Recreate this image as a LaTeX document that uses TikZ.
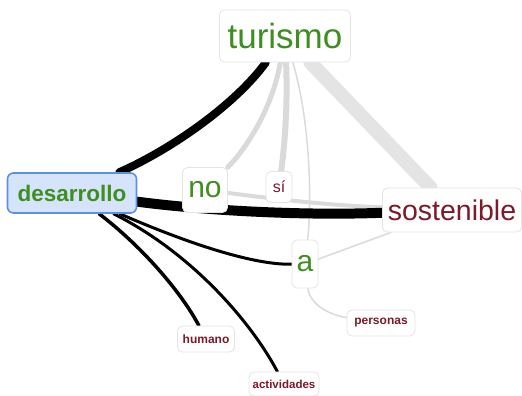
\documentclass[tikz,border=0pt]{standalone}
\usepackage{fontspec}
\setmainfont{Liberation Sans}
\usetikzlibrary{backgrounds}
\definecolor{wgreen}{RGB}{62,142,32}
\definecolor{wred}{RGB}{122,26,42}
\definecolor{wblue}{RGB}{92,143,230}
\definecolor{wbluefill}{RGB}{214,228,251}
\definecolor{wborder}{RGB}{228,228,228}
\definecolor{wgray}{RGB}{218,218,218}
\definecolor{wpale}{RGB}{228,228,228}

\begin{document}
\begin{tikzpicture}[x=1pt,y=-1pt,
  word/.style={draw=wborder, fill=white, rounded corners=5pt, inner sep=0pt, line width=0.8pt},
  hub/.style={draw=wblue, fill=wbluefill, rounded corners=6pt, inner sep=0pt, line width=1.6pt},
  strong/.style={draw=black, line cap=round},
  weak/.style={draw=wgray, line cap=round}]
\useasboundingbox (0,0) rectangle (522,396);

% Words
\node[word, minimum width=131, minimum height=52, text=wgreen, font=\fontsize{35}{40}\selectfont] (tur) at (285,36) {turismo};
\node[hub, minimum width=129, minimum height=40, text=wgreen, font=\fontsize{22.5}{26}\selectfont\bfseries] (des) at (72,193) {desarrollo};
\node[word, minimum width=45, minimum height=45, text=wgreen, font=\fontsize{30}{34}\selectfont] (no) at (205,190) {no};
\node[word, minimum width=26, minimum height=31, text=wred, font=\fontsize{16}{18}\selectfont] (si) at (279,187) {sí};
\node[word, minimum width=139, minimum height=44, text=wred, font=\fontsize{28.5}{32}\selectfont] (sos) at (452,210) {sostenible};
\node[word, minimum width=26, minimum height=48, text=wgreen, font=\fontsize{30}{34}\selectfont] (a) at (305,264) {a};
\node[word, minimum width=68, minimum height=26, text=wred, font=\fontsize{12}{14}\selectfont\bfseries] (per) at (381,323) {personas};
\node[word, minimum width=57, minimum height=26, text=wred, font=\fontsize{12}{14}\selectfont\bfseries] (hum) at (206,339) {humano};
\node[word, minimum width=70, minimum height=24, text=wred, font=\fontsize{11.5}{14}\selectfont\bfseries] (act) at (284,384) {actividades};

% Links
\begin{scope}[on background layer]
\draw[weak, draw=wpale, line width=14] (tur) -- (sos);
\draw[weak, line width=5] (tur) .. controls (272,110) and (245,150) .. (no);
\draw[weak, line width=6] (tur) .. controls (288,110) and (284,150) .. (si);
\draw[weak, line width=1.5] (tur) .. controls (310,120) and (312,200) .. (a);
\draw[weak, line width=4] (no) .. controls (260,197) and (320,205) .. (sos);
\draw[weak, line width=1.5] (a) -- (sos);
\draw[weak, line width=1.5] (a) .. controls (310,305) and (330,315) .. (per);
\draw[strong, line width=8] (tur) .. controls (235,105) and (170,150) .. (des);
\draw[strong, line width=10] (des) .. controls (200,210) and (300,216) .. (sos);
\draw[strong, line width=3] (des) .. controls (180,240) and (250,265) .. (a);
\draw[strong, line width=3.5] (des) .. controls (140,245) and (180,290) .. (hum);
\draw[strong, line width=3] (des) .. controls (190,252) and (250,320) .. (act);
\end{scope}
\end{tikzpicture}
\end{document}
